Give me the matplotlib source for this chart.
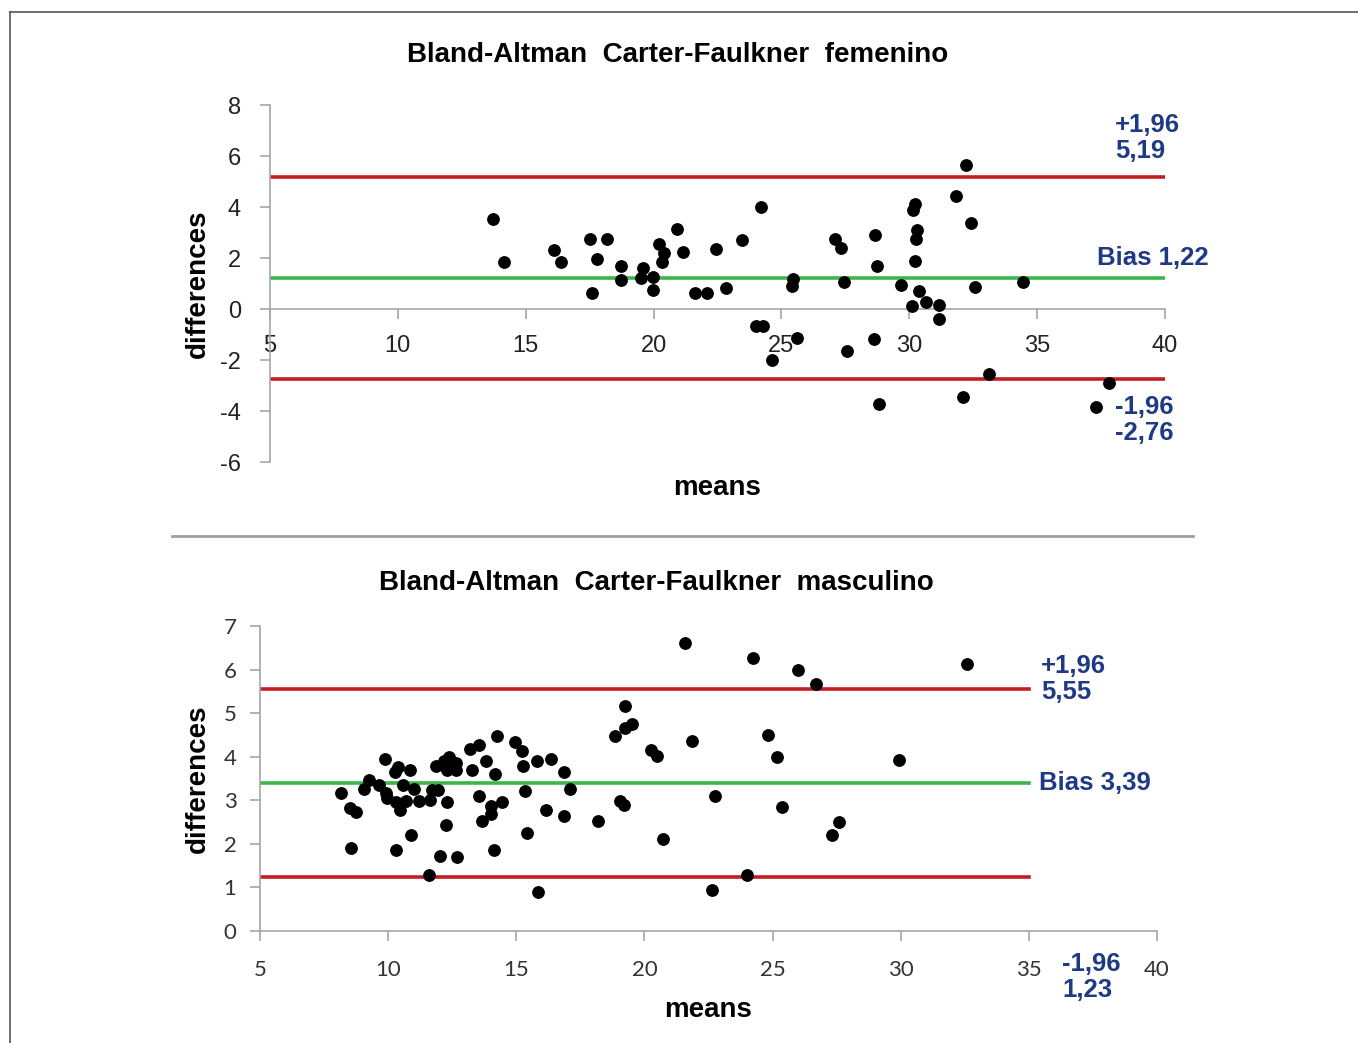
import matplotlib
matplotlib.use("Agg")
import matplotlib.pyplot as plt
from matplotlib.lines import Line2D

# femenino: means / differences
fem_means = [13.73, 14.16, 16.09, 16.37, 17.51, 18.17, 17.79, 17.61, 18.74, 18.74,
             19.59, 19.51, 19.97, 19.97, 20.21, 20.42, 20.32, 20.93, 21.14, 21.62,
             22.08, 22.43, 22.83, 23.47, 24.20, 23.99, 24.29, 24.64, 25.47, 25.43,
             25.60, 27.10, 27.33, 27.46, 27.56, 28.68, 28.76, 28.62, 28.82, 29.69,
             30.12, 30.24, 30.23, 30.16, 30.32, 30.26, 30.37, 30.64, 31.15, 31.15,
             31.84, 32.21, 32.11, 32.43, 32.58, 33.11, 34.46, 37.30, 37.80]
fem_diffs = [3.53, 1.84, 2.30, 1.83, 2.73, 2.73, 1.95, 0.61, 1.70, 1.15,
             1.60, 1.23, 1.27, 0.76, 2.56, 2.18, 1.84, 3.13, 2.25, 0.61,
             0.61, 2.35, 0.84, 2.69, 3.99, -0.65, -0.65, -2.01, 1.18, 0.91,
             -1.12, 2.75, 2.39, 1.05, -1.65, 2.90, 1.69, -1.16, -3.73, 0.93,
             0.12, 1.89, 4.12, 3.87, 3.09, 2.73, 0.71, 0.26, 0.17, -0.39,
             4.43, 5.63, -3.44, 3.37, 0.88, -2.54, 1.05, -3.83, -2.89]
fem_bias, fem_upper, fem_lower = 1.22, 5.19, -2.76

# masculino: means / differences
mas_means = [8.15, 8.51, 8.76, 8.54, 9.05, 9.27, 9.63, 9.88, 9.90, 9.96,
             10.26, 10.40, 10.84, 10.57, 10.31, 10.46, 10.70, 11.02, 11.19, 10.89,
             10.31, 11.58, 11.62, 11.70, 11.94, 11.86, 12.18, 12.39, 12.31, 12.65,
             12.64, 12.31, 12.26, 12.04, 12.67, 13.19, 13.54, 13.27, 13.81, 13.54,
             13.65, 14.03, 14.00, 14.44, 14.13, 14.17, 14.26, 14.95, 15.22, 15.26,
             15.35, 15.42, 15.79, 15.85, 16.35, 16.15, 16.87, 17.10, 16.87, 18.19,
             18.85, 21.58, 24.24, 26.00, 26.69, 32.58, 19.24, 19.50, 19.24, 20.27,
             20.50, 21.84, 24.81, 25.17, 29.93, 19.05, 19.22, 20.72, 22.75, 25.38,
             27.58, 27.33, 22.62, 23.99]
mas_diffs = [3.17, 2.82, 2.72, 1.91, 3.25, 3.46, 3.36, 3.95, 3.16, 3.06,
             3.64, 3.76, 3.70, 3.36, 2.96, 2.78, 2.98, 3.27, 2.98, 2.21,
             1.87, 1.29, 3.01, 3.24, 3.24, 3.79, 3.91, 4.00, 3.70, 3.85,
             3.70, 2.95, 2.43, 1.73, 1.70, 4.18, 4.28, 3.70, 3.91, 3.10,
             2.52, 2.87, 2.68, 2.95, 1.87, 3.60, 4.47, 4.34, 4.14, 3.78,
             3.22, 2.24, 3.91, 0.90, 3.95, 2.78, 3.66, 3.26, 2.65, 2.52,
             4.47, 6.62, 6.27, 5.98, 5.68, 6.12, 5.16, 4.76, 4.67, 4.15,
             4.02, 4.37, 4.49, 3.99, 3.93, 2.98, 2.89, 2.10, 3.10, 2.84,
             2.49, 2.21, 0.94, 1.29]
mas_bias, mas_upper, mas_lower = 3.39, 5.55, 1.23

RED = "#c41e24"
GREEN = "#3db54a"
BLUE = "#1f3a85"
AXC = "#a6a6a6"
LBL = 20      # titles / axis labels
ANN = 18.5    # blue annotations

plt.rcParams['font.family'] = ['Liberation Sans', 'DejaVu Sans']
plt.rcParams['axes.unicode_minus'] = False

fig = plt.figure(figsize=(13.58, 10.43), dpi=100, facecolor='white')


def style_axes(ax):
    for s in ['top', 'right']:
        ax.spines[s].set_visible(False)
    ax.spines['left'].set_color(AXC)
    ax.spines['bottom'].set_color(AXC)
    ax.spines['left'].set_linewidth(1.2)
    ax.spines['bottom'].set_linewidth(1.2)
    ax.spines['bottom'].set_position(('data', 0))
    ax.tick_params(colors=AXC, length=7, width=1.2, direction='out')


# ---- top: femenino
ax1 = fig.add_axes([0.1988, 0.557, 0.659, 0.3423])
style_axes(ax1)
ax1.set_xlim(5, 40)
ax1.set_ylim(-6, 8)
ax1.set_xticks(range(5, 41, 5))
ax1.set_yticks(range(-6, 9, 2))
ax1.tick_params(axis='both', labelcolor='#222222', labelsize=17)
ax1.tick_params(axis='y', pad=14)
ax1.tick_params(axis='x', pad=12)
ax1.plot([5, 40], [fem_upper] * 2, color=RED, lw=2.6)
ax1.plot([5, 40], [fem_bias] * 2, color=GREEN, lw=2.6)
ax1.plot([5, 40], [fem_lower] * 2, color=RED, lw=2.6)
ax1.plot(fem_means, fem_diffs, 'o', color='black', ms=8.2, zorder=5)
ax1.set_title("Bland-Altman  Carter-Faulkner  femenino", fontsize=LBL,
              fontweight='bold', pad=31, x=0.455)
ax1.set_ylabel("differences", fontsize=LBL, fontweight='bold')
ax1.yaxis.set_label_coords(-0.066, 0.5)
ax1.set_xlabel("means", fontsize=LBL, fontweight='bold')
ax1.xaxis.set_label_coords(0.5, -0.035)
ax1.text(38.05, 6.7, "+1,96\n5,19", color=BLUE, fontsize=ANN, fontweight='bold',
         ha='left', va='center', linespacing=1.1)
ax1.text(37.35, 2.0, "Bias 1,22", color=BLUE, fontsize=ANN, fontweight='bold',
         ha='left', va='center')
ax1.text(38.05, -4.35, "-1,96\n-2,76", color=BLUE, fontsize=ANN, fontweight='bold',
         ha='left', va='center', linespacing=1.1)

# ---- bottom: masculino
ax2 = fig.add_axes([0.1915, 0.1074, 0.6605, 0.2924])
style_axes(ax2)
ax2.set_xlim(5, 40)
ax2.set_ylim(0, 7)
ax2.set_xticks(range(5, 41, 5))
ax2.set_yticks(range(0, 8))
ax2.tick_params(axis='both', labelcolor='#333333', labelsize=16)
ax2.tick_params(axis='y', pad=10)
ax2.tick_params(axis='x', pad=14)
for lab in ax2.get_xticklabels() + ax2.get_yticklabels():
    lab.set_family('Lato')
ax2.plot([5, 35], [mas_upper] * 2, color=RED, lw=2.6)
ax2.plot([5, 35], [mas_bias] * 2, color=GREEN, lw=2.6)
ax2.plot([5, 35], [mas_lower] * 2, color=RED, lw=2.6)
ax2.plot(mas_means, mas_diffs, 'o', color='black', ms=8.2, zorder=5)
ax2.set_title("Bland-Altman  Carter-Faulkner  masculino", fontsize=LBL,
              fontweight='bold', pad=26, x=0.442)
ax2.set_ylabel("differences", fontsize=LBL, fontweight='bold')
ax2.yaxis.set_label_coords(-0.055, 0.5)
ax2.set_xlabel("means", fontsize=LBL, fontweight='bold')
ax2.xaxis.set_label_coords(0.50, -0.215)
ax2.text(35.47, 5.78, "+1,96\n5,55", color=BLUE, fontsize=ANN, fontweight='bold',
         ha='left', va='center', linespacing=1.1)
ax2.text(35.4, 3.39, "Bias 3,39", color=BLUE, fontsize=ANN, fontweight='bold',
         ha='left', va='center')
ax2.text(36.3, -1.06, "-1,96\n1,23", color=BLUE, fontsize=ANN, fontweight='bold',
         ha='left', va='center', linespacing=1.1, clip_on=False)

# frame and separator
W, H = 1358.0, 1043.0
fig.add_artist(Line2D([10 / W, 10 / W], [0, 1 - 12 / H], color='#555555', lw=1.2))
fig.add_artist(Line2D([10 / W, 1], [1 - 12 / H, 1 - 12 / H], color='#555555', lw=1.2))
fig.add_artist(Line2D([172 / W, 1193 / W], [1 - 536 / H, 1 - 536 / H], color='#a0a0a0', lw=2))

fig.savefig("out.png", dpi=100, facecolor='white')
